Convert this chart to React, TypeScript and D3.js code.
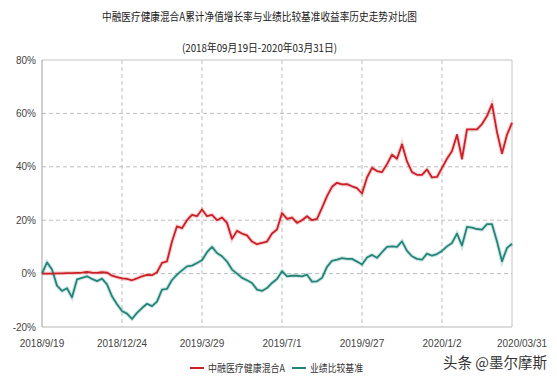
import React from "react";
import * as d3 from "d3";

// trading-day offsets from 2018-09-19 (sampled every 4 trading days)
const dayIndex: number[] = d3.range(0, 377, 4);

// 中融医疗健康混合A 累计净值增长率 (%)
const fundValues: number[] = [
  0, 0, 0, 0.1, 0.1, 0.2, 0.2, 0.3, 0.4, 0.6,
  0.4, 0.3, 0.5, 0.4, -0.8, -1.3, -1.8, -2.0, -2.5, -1.8,
  -1.0, -0.5, -0.6, 0.5, 4, 4.6, 12, 17.7, 17, 20,
  22, 21.5, 24, 21.5, 22, 20, 21, 19, 13, 16,
  15, 14.3, 12, 11, 11.5, 12, 15, 16.5, 22.7, 20.5,
  21, 19, 20, 21.5, 20, 20.5, 24.6, 29, 32.5, 34,
  33.4, 33.5, 32.7, 32, 30, 36, 39.6, 38.4, 38, 41,
  44.5, 43, 48.4, 42, 38, 37, 37, 39, 36, 36.2,
  39.6, 43, 45.9, 52, 43, 54, 54, 54, 56, 59,
  63.5, 53, 45, 52, 56.5,
];

// 业绩比较基准收益率 (%)
const benchValues: number[] = [
  0, 4.2, 1.5, -4.5, -6.5, -5.5, -8.9, -2.2, -1.6, -1,
  -2, -2.8, -1.9, -4, -8.5, -11.5, -14, -15, -17, -14.7,
  -12.9, -11.3, -12.2, -10.5, -6, -5.7, -2.4, -0.4, 1.2, 2.7,
  3, 4, 5, 8, 10, 7.7, 6.5, 4.5, 1.5, 0,
  -1.6, -2.5, -3.5, -6, -6.5, -5.4, -3.5, -2, 0.9, -1,
  -0.8, -0.8, -1, -0.4, -3, -2.9, -1.6, 2.5, 4.8, 5.2,
  5.8, 5.5, 5.5, 4.5, 3.4, 6, 7, 5.9, 8, 10,
  10.2, 10, 12.1, 8.5, 6.5, 5.5, 5.2, 7.5, 6.7, 7.3,
  8.5, 10.2, 11.5, 15, 10.5, 17.5, 17.2, 16.7, 16.5, 18.5,
  18.5, 12, 4.6, 9.6, 11.2,
];

const xTickDays: number[] = [0, 64, 128, 192, 256, 320, 384];
const xTickLabels: string[] = [
  "2018/9/19", "2018/12/24", "2019/3/29", "2019/7/1", "2019/9/27", "2020/1/2", "2020/03/31",
];
const yTicks: number[] = [-20, 0, 20, 40, 60, 80];

const seriesNames: string[] = ["中融医疗健康混合A", "业绩比较基准"];
const seriesColors: string[] = ["#cc2027", "#23857a"];

const title = "中融医疗健康混合A累计净值增长率与业绩比较基准收益率历史走势对比图";
const subtitle = "(2018年09月19日-2020年03月31日)";
const watermark = "头条 @墨尔摩斯";

const W = 557;
const H = 382;
const left = 42;
const right = 512;
const top = 60;
const bottom = 327;

export default function App() {
  const x = d3.scaleLinear().domain([0, 384]).range([left, 522]);
  const y = d3.scaleLinear().domain([-20, 80]).range([bottom, top]);
  const line = d3
    .line<number>()
    .x((_, i) => x(dayIndex[i]))
    .y((v) => y(v))
    .curve(d3.curveLinear);

  const cjk = "'Noto Sans CJK SC', sans-serif";
  const latin = "'Liberation Sans', Arial, sans-serif";

  return (
    <svg
      width={W}
      height={H}
      style={{ position: "absolute", left: 0, top: 0, background: "#fff" }}
    >
      <rect x={0} y={0} width={W} height={H} fill="#fff" />
      <text x={259.5} y={21} textAnchor="middle" fontFamily={cjk} fontSize={11.5} fill="#222"
        textLength={315} lengthAdjust="spacingAndGlyphs">{title}</text>
      <text x={259.5} y={52} textAnchor="middle" fontFamily={cjk} fontSize={11} fill="#222"
        textLength={155} lengthAdjust="spacingAndGlyphs">{subtitle}</text>

      {/* grid */}
      {yTicks.filter((t) => t > -20 && t < 80).map((t) => (
        <line key={"gy" + t} x1={left} x2={right} y1={y(t)} y2={y(t)}
          stroke="#bdbdbd" strokeWidth={1} strokeDasharray="4,3" />
      ))}
      {xTickDays.filter((d) => d > 0 && x(d) < right).map((d) => (
        <line key={"gx" + d} x1={x(d)} x2={x(d)} y1={top} y2={bottom}
          stroke="#bdbdbd" strokeWidth={1} strokeDasharray="4,3" />
      ))}

      {/* frame */}
      <line x1={left} x2={right} y1={top} y2={top} stroke="#c4c4c4" />
      <line x1={right} x2={right} y1={top} y2={bottom} stroke="#c4c4c4" />
      <line x1={left} x2={right} y1={bottom} y2={bottom} stroke="#b8b8b8" />
      <line x1={left} x2={left} y1={top} y2={bottom} stroke="#a0a0a0" />

      {/* y labels */}
      {yTicks.map((t) => (
        <text key={"yl" + t} x={36} y={y(t) + 3.5} textAnchor="end" fontFamily={latin}
          fontSize={10} fill="#444">{t + "%"}</text>
      ))}
      {/* x labels */}
      {xTickDays.map((d, i) => (
        <text key={"xl" + d} x={x(d)} y={347} textAnchor="middle" fontFamily={latin}
          fontSize={10} fill="#444">{xTickLabels[i]}</text>
      ))}

      {/* series */}
      <path d={line(benchValues) || ""} fill="none" stroke={seriesColors[1]} strokeOpacity={0.2} strokeWidth={4} />
      <path d={line(fundValues) || ""} fill="none" stroke={seriesColors[0]} strokeOpacity={0.2} strokeWidth={4} />
      <path d={line(benchValues) || ""} fill="none" stroke={seriesColors[1]} strokeWidth={1.8} strokeLinejoin="round" />
      <path d={line(fundValues) || ""} fill="none" stroke={seriesColors[0]} strokeWidth={1.8} strokeLinejoin="round" />

      {/* legend */}
      <line x1={190} x2={204} y1={368} y2={368} stroke={seriesColors[0]} strokeWidth={2} />
      <text x={208} y={372} fontFamily={cjk} fontSize={10.5} fill="#333"
        textLength={77} lengthAdjust="spacingAndGlyphs">{seriesNames[0]}</text>
      <line x1={292} x2={306} y1={368} y2={368} stroke={seriesColors[1]} strokeWidth={2} />
      <text x={310} y={372} fontFamily={cjk} fontSize={10.5} fill="#333"
        textLength={53} lengthAdjust="spacingAndGlyphs">{seriesNames[1]}</text>

      {/* watermark */}
      <text x={495} y={368} textAnchor="middle" fontFamily={cjk} fontSize={14.5} fill="#333"
        textLength={104} lengthAdjust="spacingAndGlyphs">{watermark}</text>
    </svg>
  );
}
